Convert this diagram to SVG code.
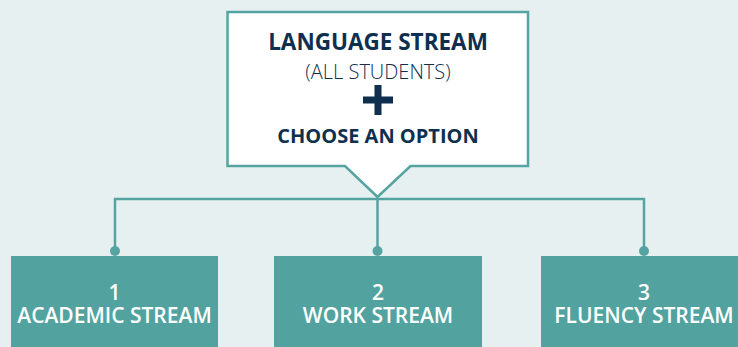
<svg xmlns="http://www.w3.org/2000/svg" width="738" height="347" viewBox="0 0 738 347">
<style>
.bg{fill:#e6f0f0}
.line{fill:none;stroke:#55a4a1;stroke-width:2.5}
.dot{fill:#55a4a1}
.box{fill:#52a3a0}
.wt{fill:#ffffff;font-family:"Open Sans",sans-serif;font-weight:600;font-size:21px;text-anchor:middle}
.nt{fill:#0f2f4f;font-family:"Open Sans",sans-serif;text-anchor:middle}
</style>
<rect class="bg" x="0" y="0" width="738" height="347"/>
<g id="connectors">
<path class="line" d="M115,251 V199 H644 V251 M377.5,199 V251"/>
<circle class="dot" cx="115" cy="251" r="5"/>
<circle class="dot" cx="377.5" cy="251" r="5"/>
<circle class="dot" cx="644" cy="251" r="5"/>
</g>
<g id="language-stream">
<path d="M227.5,12 H528 V166 H410.5 L377.5,197 L345,166 H227.5 Z" fill="#ffffff" stroke="#55a4a1" stroke-width="2.5"/>
<text class="nt" x="378" y="50" font-size="22.5" font-weight="700">LANGUAGE STREAM</text>
<text class="nt" x="378" y="79" font-size="20" font-weight="300">(ALL STUDENTS)</text>
<path d="M363,100 H393 M378,85 V115" stroke="#0f2f4f" stroke-width="7" fill="none"/>
<text class="nt" x="378" y="143" font-size="20" font-weight="700">CHOOSE AN OPTION</text>
</g>
<g id="academic-stream">
<rect class="box" x="11" y="256" width="207" height="100"/>
<text class="wt"><tspan x="114.5" y="300">1</tspan><tspan x="114.5" y="323">ACADEMIC STREAM</tspan></text>
</g>
<g id="work-stream">
<rect class="box" x="274" y="256" width="208" height="100"/>
<text class="wt"><tspan x="378" y="300">2</tspan><tspan x="378" y="323">WORK STREAM</tspan></text>
</g>
<g id="fluency-stream">
<rect class="box" x="541" y="256" width="207" height="100"/>
<text class="wt"><tspan x="644" y="300">3</tspan><tspan x="644" y="323">FLUENCY STREAM</tspan></text>
</g>
</svg>
